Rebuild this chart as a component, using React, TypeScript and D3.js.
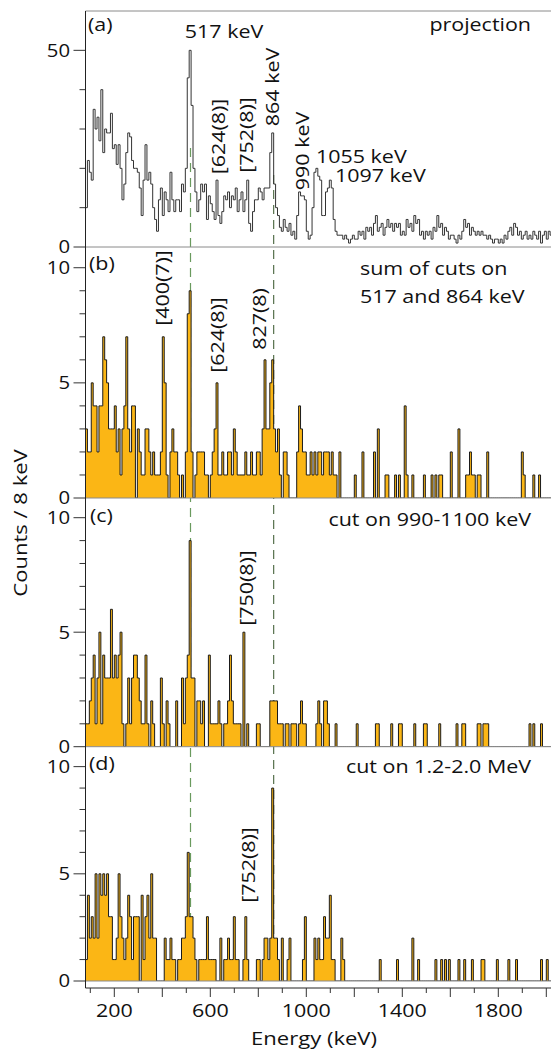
import React from "react";
import * as d3 from "d3";

// 8 keV bins starting at 80 keV
const BIN_START = 80;
const BIN_WIDTH = 8;

// (a) total projection
const projectionCounts = [
  10, 22, 19, 17, 35, 30, 33, 27, 40, 24,
  30, 29, 29, 34, 25, 26, 21, 26, 20, 12,
  16, 24, 29, 28, 22, 20, 20, 19, 15, 8,
  17, 26, 17, 19, 16, 10, 7, 4, 12, 15,
  8, 14, 12, 9, 19, 12, 9, 12, 12, 9,
  16, 14, 20, 43, 50, 36, 20, 14, 9, 12,
  16, 14, 16, 7, 13, 11, 9, 7, 17, 8,
  6, 9, 13, 12, 14, 10, 13, 12, 15, 9,
  12, 14, 9, 12, 17, 6, 4, 9, 12, 12,
  15, 14, 12, 15, 15, 15, 24, 29, 16, 10,
  8, 5, 4, 7, 5, 4, 6, 3, 4, 2,
  8, 14, 13, 13, 12, 4, 2, 3, 10, 19,
  20, 18, 17, 8, 8, 14, 15, 17, 15, 7,
  4, 3, 3, 3, 2, 3, 2, 1, 2, 3,
  2, 2, 4, 3, 4, 2, 5, 4, 5, 3,
  6, 8, 4, 5, 6, 3, 5, 7, 5, 6,
  4, 6, 5, 6, 3, 4, 3, 7, 5, 6,
  4, 8, 6, 7, 3, 4, 2, 4, 3, 4,
  2, 5, 4, 8, 5, 6, 3, 5, 4, 2,
  3, 3, 2, 1, 3, 2, 4, 7, 5, 6,
  3, 5, 4, 3, 4, 3, 4, 3, 3, 2,
  3, 2, 1, 2, 2, 1, 2, 1, 3, 2,
  4, 5, 3, 6, 5, 3, 4, 2, 3, 4,
  2, 3, 2, 4, 3, 2, 4, 1, 3, 4,
  2, 4, 3,
];

// (b) sum of cuts on 517 and 864 keV
const cutSumCounts = [
  3, 2, 2, 5, 4, 4, 2, 4, 4, 7,
  6, 5, 3, 3, 3, 4, 2, 3, 1, 3,
  4, 7, 3, 2, 4, 4, 0, 3, 2, 1,
  1, 3, 3, 2, 1, 2, 1, 1, 1, 2,
  7, 5, 1, 0, 2, 3, 2, 2, 1, 0,
  1, 0, 2, 8, 9, 2, 0, 1, 2, 2,
  2, 2, 1, 1, 0, 1, 2, 3, 5, 1,
  1, 2, 1, 1, 2, 2, 1, 3, 2, 1,
  1, 1, 1, 2, 1, 1, 2, 1, 1, 2,
  2, 1, 3, 6, 3, 3, 5, 6, 3, 2,
  3, 1, 0, 2, 2, 1, 0, 0, 0, 0,
  2, 4, 3, 2, 2, 1, 1, 2, 1, 2,
  1, 2, 2, 1, 2, 2, 2, 1, 2, 1,
  1, 0, 2, 0, 0, 0, 0, 0, 0, 0,
  1, 0, 0, 0, 2, 0, 0, 0, 0, 0,
  2, 0, 3, 0, 0, 0, 1, 1, 0, 0,
  0, 1, 0, 1, 0, 0, 4, 1, 0, 0,
  1, 0, 0, 0, 0, 0, 1, 0, 0, 0,
  1, 0, 1, 0, 1, 1, 0, 0, 0, 0,
  2, 0, 0, 0, 3, 0, 0, 0, 1, 1,
  2, 1, 1, 0, 1, 1, 0, 0, 0, 2,
  0, 0, 0, 0, 0, 0, 0, 0, 0, 0,
  0, 0, 0, 0, 0, 0, 0, 2, 1, 0,
  0, 0, 0, 1, 0, 0, 1, 0, 0, 0,
  0, 0, 0,
];

// (c) cut on 990-1100 keV
const cut990Counts = [
  1, 1, 2, 3, 4, 1, 3, 5, 1, 4,
  3, 3, 3, 6, 3, 4, 3, 4, 5, 1,
  0, 1, 3, 1, 3, 4, 4, 3, 2, 1,
  1, 4, 1, 0, 2, 1, 0, 0, 0, 3,
  1, 0, 2, 1, 0, 0, 0, 2, 0, 0,
  3, 1, 3, 4, 9, 3, 3, 0, 2, 2,
  1, 2, 0, 0, 4, 1, 1, 1, 1, 2,
  1, 0, 1, 1, 2, 4, 2, 1, 1, 1,
  1, 0, 5, 0, 1, 0, 0, 0, 0, 1,
  1, 0, 0, 0, 0, 0, 2, 2, 2, 2,
  1, 1, 1, 0, 1, 1, 0, 1, 1, 1,
  0, 1, 2, 1, 1, 0, 0, 0, 0, 0,
  1, 2, 1, 0, 2, 2, 1, 0, 0, 0,
  1, 0, 0, 0, 0, 0, 0, 0, 0, 0,
  0, 1, 0, 0, 0, 0, 0, 0, 0, 0,
  0, 1, 1, 0, 0, 0, 0, 0, 0, 1,
  0, 0, 0, 1, 1, 0, 0, 0, 0, 0,
  0, 1, 0, 0, 0, 0, 1, 1, 0, 0,
  0, 0, 0, 0, 1, 0, 0, 0, 0, 0,
  0, 0, 0, 1, 0, 0, 1, 1, 0, 0,
  0, 0, 0, 0, 1, 1, 0, 1, 1, 1,
  0, 0, 0, 0, 0, 0, 0, 0, 0, 0,
  0, 0, 0, 0, 0, 0, 0, 0, 0, 0,
  0, 1, 0, 1, 0, 0, 0, 1, 0, 0,
  0, 0, 0,
];

// (d) cut on 1.2-2.0 MeV
const cutHighCounts = [
  1, 4, 2, 3, 2, 5, 2, 5, 4, 5,
  4, 5, 3, 3, 1, 1, 2, 5, 3, 2,
  1, 2, 4, 3, 1, 3, 3, 3, 0, 4,
  1, 3, 4, 2, 5, 2, 2, 0, 0, 0,
  0, 2, 1, 1, 2, 1, 1, 0, 1, 1,
  2, 2, 3, 6, 3, 3, 2, 1, 0, 1,
  1, 1, 1, 3, 1, 1, 1, 1, 0, 0,
  2, 0, 1, 1, 2, 1, 1, 3, 1, 1,
  0, 0, 1, 3, 1, 0, 0, 0, 0, 1,
  1, 0, 1, 2, 2, 1, 2, 9, 2, 2,
  1, 0, 2, 0, 0, 1, 2, 0, 0, 0,
  0, 0, 0, 1, 3, 0, 0, 0, 0, 2,
  1, 2, 1, 1, 3, 2, 2, 4, 1, 1,
  0, 0, 0, 2, 1, 0, 0, 0, 0, 0,
  0, 0, 0, 0, 0, 0, 0, 0, 0, 0,
  0, 0, 0, 1, 0, 0, 0, 0, 0, 0,
  0, 0, 1, 0, 0, 0, 0, 0, 0, 0,
  2, 0, 0, 1, 0, 0, 0, 0, 0, 0,
  0, 0, 1, 0, 0, 1, 0, 1, 0, 1,
  0, 0, 0, 0, 1, 0, 0, 1, 0, 0,
  0, 1, 0, 0, 0, 0, 1, 1, 0, 0,
  0, 0, 0, 0, 1, 0, 0, 0, 0, 0,
  1, 0, 0, 0, 1, 0, 0, 0, 0, 0,
  0, 0, 0, 0, 0, 0, 0, 1, 0, 0,
  1, 0, 0,
];

const xMinorTicks = d3.range(100, 2001, 100);
const xLabelTicks = [200, 600, 1000, 1400, 1800];
const gateLines = [517, 864];

const FONT = "'Open Sans', 'DejaVu Sans', sans-serif";
const FILL = "#fbb615";
const GATE_COLORS = ["#6a9a5e", "#55704c"];
const SX = 1.16; // horizontal stretch of the lettering

const xScale = d3.scaleLinear().domain([80, 2020]).range([85.5, 551.1]);
const LEFT = 85.5;
const RIGHT = 551;

type Panel = {
  id: string;
  data: number[];
  yDomain: [number, number];
  yRange: [number, number];
  filled: boolean;
  labelTicks: number[];
  minorTicks: number[];
};

const panels: Panel[] = [
  { id: "a", data: projectionCounts, yDomain: [0, 60], yRange: [247, 11], filled: false, labelTicks: [0, 50], minorTicks: [10, 20, 30, 40] },
  { id: "b", data: cutSumCounts, yDomain: [0, 10.9], yRange: [498, 247], filled: true, labelTicks: [0, 5, 10], minorTicks: [1, 2, 3, 4, 6, 7, 8, 9] },
  { id: "c", data: cut990Counts, yDomain: [0, 10.86], yRange: [746.7, 498], filled: true, labelTicks: [0, 5, 10], minorTicks: [1, 2, 3, 4, 6, 7, 8, 9] },
  { id: "d", data: cutHighCounts, yDomain: [0, 10.93], yRange: [981, 746.7], filled: true, labelTicks: [0, 5, 10], minorTicks: [1, 2, 3, 4, 6, 7, 8, 9] },
];

function T({
  x,
  y,
  children,
  anchor = "start",
  size = 18.5,
  rotate = 0,
  dy,
}: {
  x: number;
  y: number;
  children: any;
  anchor?: string;
  size?: number;
  rotate?: number;
  dy?: string;
}) {
  return (
    <text
      transform={`translate(${x},${y})${rotate ? ` rotate(${rotate})` : ""} scale(${SX},1)`}
      textAnchor={anchor}
      dy={dy}
      fontSize={size}
      fontFamily={FONT}
      fill="#111"
    >
      {children}
    </text>
  );
}

function HistPanel({ p }: { p: Panel }) {
  const y = d3.scaleLinear().domain(p.yDomain).range(p.yRange);
  const pts: [number, number][] = p.data.map((v, i) => [BIN_START + i * BIN_WIDTH, v]);
  pts.push([BIN_START + p.data.length * BIN_WIDTH, p.data[p.data.length - 1]]);
  const line = d3
    .line<[number, number]>()
    .x((d) => xScale(d[0]))
    .y((d) => y(d[1]))
    .curve(d3.curveStepAfter);
  const area = d3
    .area<[number, number]>()
    .x((d) => xScale(d[0]))
    .y0(y(0))
    .y1((d) => y(d[1]))
    .curve(d3.curveStepAfter);
  const clipId = `clip-${p.id}`;
  return (
    <g>
      <defs>
        <clipPath id={clipId}>
          <rect x={LEFT} y={p.yRange[1] - 2} width={RIGHT - LEFT + 5} height={p.yRange[0] - p.yRange[1] + 2} />
        </clipPath>
      </defs>
      <g clipPath={`url(#${clipId})`}>
        {p.filled && <path d={area(pts) || ""} fill={FILL} stroke="none" />}
        <path d={line(pts) || ""} fill="none" stroke={p.filled ? "#1a1a1a" : "#333"} strokeWidth={1} />
      </g>
      <line x1={LEFT} x2={RIGHT} y1={y(0)} y2={y(0)} stroke="#8a8a8a" strokeWidth={1} />
      {p.labelTicks.map((t) => (
        <g key={`l${t}`}>
          <line x1={LEFT - 12} x2={LEFT} y1={y(t)} y2={y(t)} stroke="#333" strokeWidth={1} />
          <T x={70} y={y(t)} dy="0.36em" anchor="end" size={17.5}>
            {t}
          </T>
        </g>
      ))}
      {p.minorTicks.map((t) => (
        <line key={`m${t}`} x1={LEFT - 6} x2={LEFT} y1={y(t)} y2={y(t)} stroke="#333" strokeWidth={1} />
      ))}
    </g>
  );
}

function Rot({ x, y, text }: { x: number; y: number; text: string }) {
  return (
    <T x={x} y={y} rotate={-90} anchor="middle" dy="0.35em">
      {text}
    </T>
  );
}

export default function App() {
  return (
    <svg width={551} height={1050} style={{ position: "absolute", left: 0, top: 0, background: "#fff" }}>
      {/* gate dashed lines (behind the spectra) */}
      {gateLines.map((e, i) => {
        const gx = i === 0 ? Math.round(xScale(e)) + 0.5 : xScale(e);
        return (
          <line
            key={e}
            x1={gx}
            x2={gx}
            y1={i === 0 ? 148 : 175}
            y2={981}
            stroke={GATE_COLORS[i]}
            strokeWidth={1.2}
            strokeDasharray="9,6"
          />
        );
      })}
      {panels.map((p) => (
        <HistPanel key={p.id} p={p} />
      ))}
      {/* frame */}
      <line x1={LEFT} x2={RIGHT} y1={11} y2={11} stroke="#8a8a8a" strokeWidth={1} />
      <line x1={LEFT} x2={LEFT} y1={11} y2={988} stroke="#222" strokeWidth={1} />
      <line x1={LEFT} x2={RIGHT} y1={988} y2={988} stroke="#222" strokeWidth={1} />
      {xMinorTicks.map((t) => (
        <line
          key={t}
          x1={xScale(t)}
          x2={xScale(t)}
          y1={988}
          y2={t % 200 === 0 ? 997 : 993}
          stroke="#333"
          strokeWidth={1}
        />
      ))}
      {xLabelTicks.map((t) => (
        <T key={t} x={xScale(t)} y={1017} anchor="middle" size={18.5}>
          {t}
        </T>
      ))}
      <T x={314} y={1045} anchor="middle" size={19}>
        Energy (keV)
      </T>
      <T x={20} y={523} rotate={-90} anchor="middle" dy="0.35em" size={19}>
        Counts / 8 keV
      </T>

      {/* panel (a) labels */}
      <T x={88} y={31}>(a)</T>
      <T x={224} y={37.5} anchor="middle">517 keV</T>
      <T x={531} y={31} anchor="end">projection</T>
      <Rot x={219} y={136.5} text="[624(8)]" />
      <Rot x={247} y={135} text="[752(8)]" />
      <Rot x={273} y={87} text="864 keV" />
      <Rot x={303} y={151} text="990 keV" />
      <T x={316} y={163}>1055 keV</T>
      <T x={335} y={182}>1097 keV</T>

      {/* panel (b) */}
      <T x={89} y={270}>(b)</T>
      <T x={360} y={275}>sum of cuts on</T>
      <T x={360} y={303}>517 and 864 keV</T>
      <Rot x={162.5} y={288} text="[400(7)]" />
      <Rot x={218} y={335} text="[624(8)]" />
      <Rot x={260} y={319} text="827(8)" />

      {/* panel (c) */}
      <T x={90} y={522}>(c)</T>
      <T x={531} y={526} anchor="end">cut on 990-1100 keV</T>
      <Rot x={247} y={588} text="[750(8)]" />

      {/* panel (d) */}
      <T x={89} y={770}>(d)</T>
      <T x={531} y={773} anchor="end">cut on 1.2-2.0 MeV</T>
      <Rot x={249} y={865} text="[752(8)]" />
    </svg>
  );
}
